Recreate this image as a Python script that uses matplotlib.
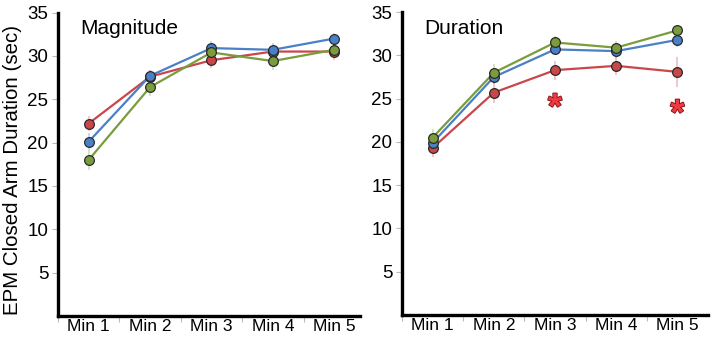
import matplotlib
matplotlib.use('Agg')
import matplotlib.pyplot as plt
import matplotlib.patheffects as pe
import numpy as np

plt.rcParams['font.family'] = ['Liberation Sans', 'DejaVu Sans']

minutes = ['Min 1', 'Min 2', 'Min 3', 'Min 4', 'Min 5']

# Magnitude panel (mean, sem)
mag_red = [22.2, 27.6, 29.5, 30.5, 30.5]
mag_red_err = [0.9, 0.8, 0.9, 0.8, 1.0]
mag_blue = [20.1, 27.7, 30.9, 30.7, 32.0]
mag_blue_err = [1.0, 0.7, 0.8, 0.8, 0.6]
mag_green = [18.0, 26.4, 30.4, 29.4, 30.7]
mag_green_err = [1.2, 1.0, 0.9, 1.0, 0.8]

# Duration panel (mean, sem)
dur_green = [20.5, 28.0, 31.5, 30.9, 32.9]
dur_green_err = [1.0, 1.0, 0.8, 0.8, 0.6]
dur_blue = [19.9, 27.5, 30.7, 30.5, 31.8]
dur_blue_err = [0.8, 0.8, 0.7, 0.8, 0.8]
dur_red = [19.3, 25.7, 28.3, 28.8, 28.1]
dur_red_err = [1.0, 1.2, 1.1, 1.1, 1.7]
star_pos = [2, 4]
star_y = [24.8, 24.1]

RED = '#c9474b'
BLUE = '#4a80c6'
GREEN = '#7a9c3c'

fig = plt.figure(figsize=(7.14, 3.39), dpi=100)
ax1 = fig.add_axes([0.0812, 0.068, 0.423, 0.895])
ax2 = fig.add_axes([0.563, 0.071, 0.4286, 0.893])

def series(ax, y, err, color):
    x = np.arange(len(y))
    ax.errorbar(x, y, yerr=err, fmt='none', ecolor=color, alpha=0.35, elinewidth=1.2, zorder=1)
    ax.plot(x, y, '-', color=color, lw=1.6, zorder=2)
    ax.plot(x, y, 'o', color=color, ms=7, mec='#2a2a2a', mew=0.9, zorder=3)

def style(ax, title, title_x, right):
    ax.set_ylim(0, 35)
    ax.set_xlim(-0.5, right)
    ax.set_yticks([5, 10, 15, 20, 25, 30, 35])
    ax.set_xticks(range(5))
    ax.set_xticklabels(minutes)
    ax.set_xticks(np.arange(-0.5, 4.0, 1.0), minor=True)
    ax.tick_params(axis='x', which='major', length=0, labelsize=12.5, pad=2)
    ax.tick_params(axis='x', which='minor', length=4, color='#bbbbbb', width=0.8)
    ax.tick_params(axis='y', length=4, color='#bbbbbb', width=0.8, labelsize=13.5, pad=3)
    for s in ['top', 'right']:
        ax.spines[s].set_visible(False)
    for s in ['left', 'bottom']:
        ax.spines[s].set_linewidth(2.4)
    ax.text(title_x, 34.2, title, fontsize=15, va='top', ha='left')

series(ax1, mag_red, mag_red_err, RED)
series(ax1, mag_blue, mag_blue_err, BLUE)
series(ax1, mag_green, mag_green_err, GREEN)
style(ax1, 'Magnitude', -0.14, 4.42)
ax1.set_ylabel('EPM Closed Arm Duration (sec)', fontsize=14.8)
ax1.yaxis.set_label_coords(-0.12, 0.48)

series(ax2, dur_red, dur_red_err, RED)
series(ax2, dur_blue, dur_blue_err, BLUE)
series(ax2, dur_green, dur_green_err, GREEN)
style(ax2, 'Duration', -0.13, 4.5)
for xs, ys in zip(star_pos, star_y):
    ax2.annotate('*', (xs, ys), xytext=(0, -6), textcoords='offset points',
                 fontsize=26, color='#ee3a40', ha='center', va='center',
                 fontweight='bold',
                 path_effects=[pe.withStroke(linewidth=1.2, foreground='#7a1010')])

fig.savefig('out.png', dpi=100)
